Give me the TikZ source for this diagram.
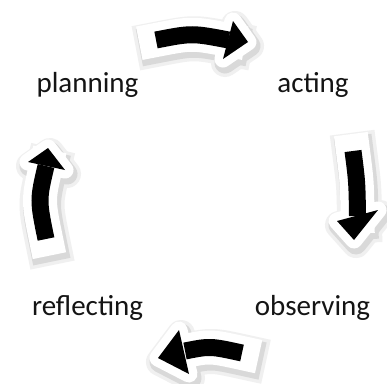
\documentclass[tikz,border=0pt]{standalone}
\usepackage{fontspec}
\setmainfont{Carlito}
\tikzset{
  lbl/.style={font=\fontsize{29}{34}\selectfont, inner sep=0pt, anchor=base, text=black!92},
  shaftline/.style={line cap=rect, line join=round},
}
% #1 start, #2 control, #3 shaft end, #4 head corner, #5 tip, #6 head corner, #7 shaft width
\newcommand\cycarrow[7]{%
  \begin{scope}[shift={(2,4)}]
    \draw[black!6, line width=#7+28, shaftline] #1 .. controls #2 .. #3;
    \filldraw[black!6, line width=28, line join=round] #4 -- #5 -- #6 -- cycle;
    \draw[black!15, line width=#7+21, shaftline] #1 .. controls #2 .. #3;
    \filldraw[black!15, line width=21, line join=round] #4 -- #5 -- #6 -- cycle;
  \end{scope}
  \draw[white, line width=#7+17, shaftline] #1 .. controls #2 .. #3;
  \filldraw[white, line width=17, line join=round] #4 -- #5 -- #6 -- cycle;
  \draw[black, line width=#7, line cap=butt] #1 .. controls #2 .. #3;
  \fill[black] #4 -- #5 -- #6 -- cycle;
}
\begin{document}
\begin{tikzpicture}[x=1pt, y=-1pt]
  \useasboundingbox[fill=white] (0,0) rectangle (387,383);
  % labels
  \node[lbl] (plan) at (87.5,92) {planning};
  \node[lbl] (act)  at (313,92)  {acting};
  \node[lbl] (refl) at (87.5,315) {reflecting};
  \node[lbl] (obs)  at (312.5,315) {observing};
  % arrows
  \cycarrow{(156,40)}{(192,33)}{(228.5,40)}{(233,21)}{(248,42)}{(223,59)}{17}
  \cycarrow{(353,151)}{(357,182)}{(357.5,216)}{(337,221)}{(354,240)}{(378,210)}{17}
  \cycarrow{(242,353)}{(210,346)}{(185,351)}{(179,330)}{(158,358)}{(189,374)}{17}
  \cycarrow{(46,239)}{(38,200)}{(46,166)}{(28,162)}{(48,148)}{(65,170)}{17}
\end{tikzpicture}
\end{document}
